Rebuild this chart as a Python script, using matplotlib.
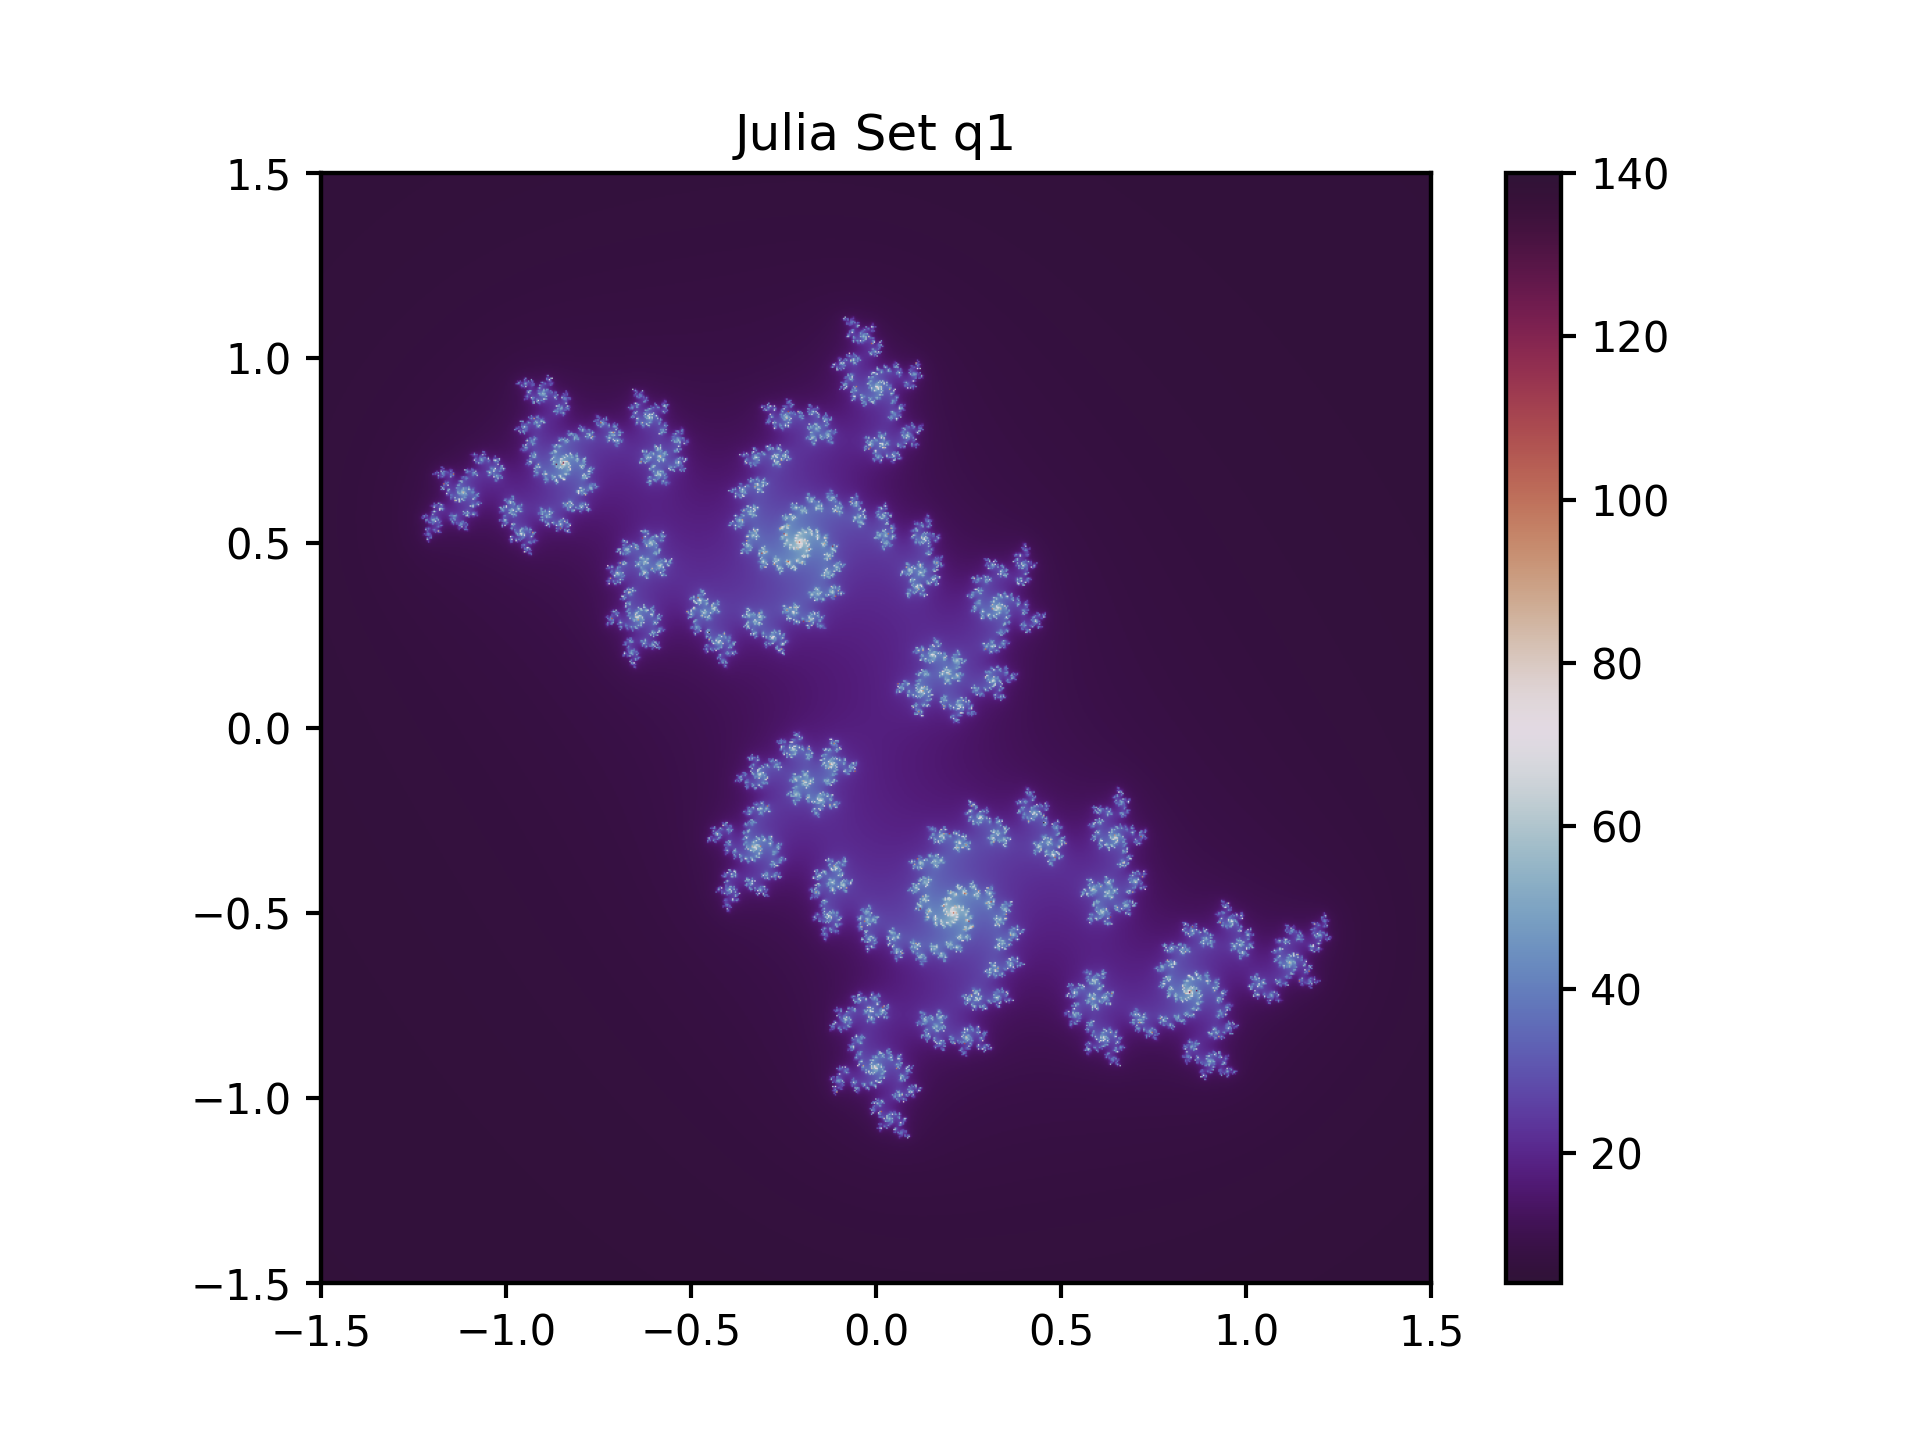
import numpy as np
import matplotlib
matplotlib.use("Agg")
import matplotlib.pyplot as plt

# Parameters of the quadratic map z -> z**2 + c that the picture shows
c_real = 0.0
c_imag = 0.708
x_range = [-1.5, 1.5]
y_range = [-1.5, 1.5]
grid_size = 800
max_iter = 140
escape_radius = 1000.0
count_min = 4
count_max = 140
title = "Julia Set q1"
cmap_name = "twilight_shifted"
cbar_ticks = [20, 40, 60, 80, 100, 120, 140]

plt.rcParams["axes.linewidth"] = 1.05
plt.rcParams["xtick.major.width"] = 1.0
plt.rcParams["ytick.major.width"] = 1.0

x = np.linspace(x_range[0], x_range[1], grid_size)
y = np.linspace(y_range[0], y_range[1], grid_size)
X, Y = np.meshgrid(x, y)
z = X + 1j * Y
c = complex(c_real, c_imag)
count = np.full(z.shape, float(max_iter))
active = np.ones(z.shape, dtype=bool)
for n in range(max_iter):
    z[active] = z[active] ** 2 + c
    esc = active & (np.abs(z) > escape_radius)
    count[esc] = n + 6 - np.log(np.log(np.abs(z[esc]))) / np.log(2)
    active &= ~esc

fig, ax = plt.subplots(figsize=(1921 / 300, 1442 / 300), dpi=300)
im = ax.imshow(count, origin="lower", extent=x_range + y_range, cmap=cmap_name,
               vmin=count_min, vmax=count_max)
ax.set_title(title, pad=5.5)
cb = fig.colorbar(im, ax=ax, ticks=cbar_ticks)
fig.savefig("out.png", dpi=300)
